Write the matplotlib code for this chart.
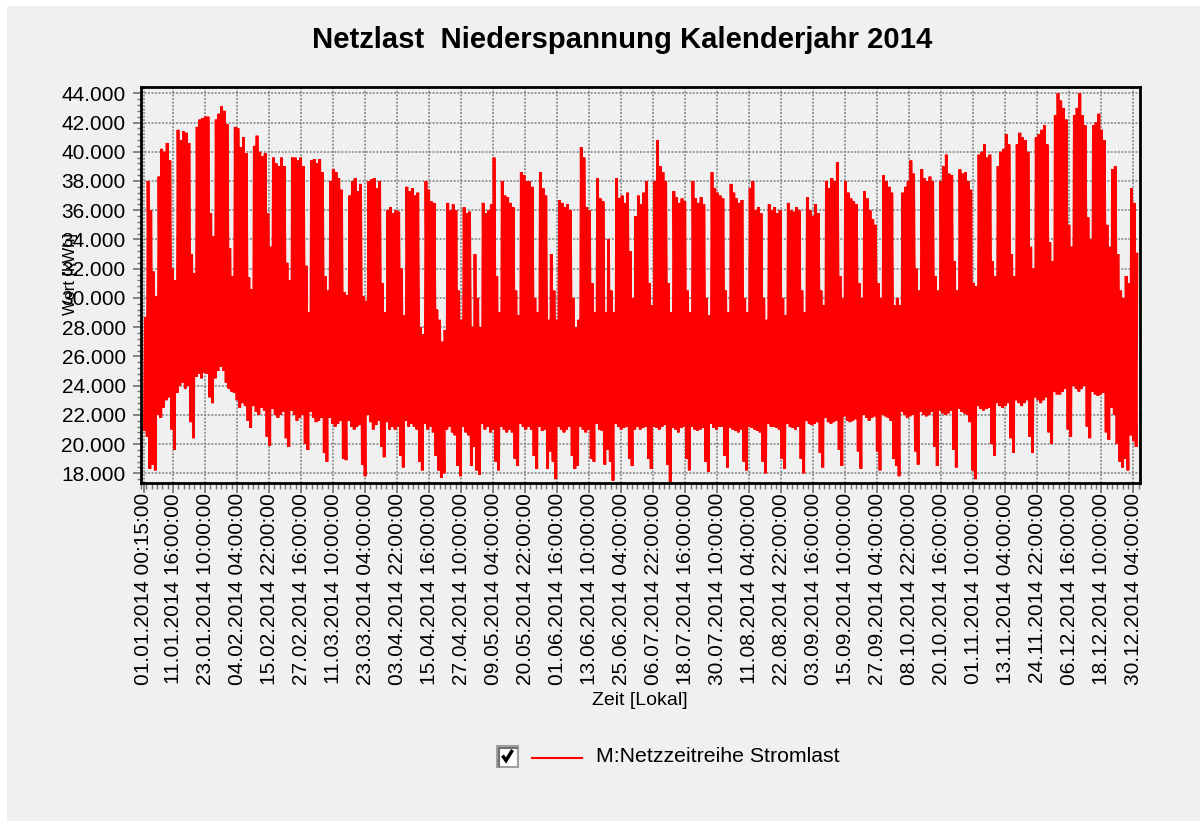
import numpy as np
import matplotlib
matplotlib.use("Agg")
import matplotlib.pyplot as plt
import matplotlib.dates as mdates
from matplotlib.patches import Rectangle
from matplotlib.lines import Line2D
from matplotlib.ticker import FixedLocator, FixedFormatter, MultipleLocator, FuncFormatter
from datetime import datetime, timedelta

plt.rcParams['font.family'] = ['Liberation Sans', 'DejaVu Sans']

title = "Netzlast  Niederspannung Kalenderjahr 2014"
series_name = "M:Netzzeitreihe Stromlast"
x_label = "Zeit [Lokal]"
y_label = "Wert [kWh]"

# daily peak load (thousand kWh) 01.01.2014 - 31.12.2014, rows = weeks Mon..Sun
daily_max_k = [
    28.7, 38.0, 36.0, 31.8, 30.1,                   # Wed 01.01 - Sun 05.01
    38.3, 40.2, 40.0, 40.6, 39.4, 32.0, 31.2,       # 06.01
    41.5, 40.8, 41.4, 41.3, 40.6, 33.0, 31.7,       # 13.01
    41.7, 42.2, 42.3, 42.4, 42.4, 35.8, 34.2,       # 20.01
    42.2, 42.6, 43.1, 42.8, 41.9, 33.4, 31.5,       # 27.01
    41.7, 41.6, 40.3, 41.0, 39.9, 31.4, 30.6,       # 03.02
    40.4, 41.1, 40.0, 39.7, 39.9, 35.8, 33.5,       # 10.02
    39.6, 39.2, 39.0, 39.6, 39.0, 32.4, 31.2,       # 17.02
    39.6, 39.6, 39.4, 39.6, 39.0, 32.2, 29.0,       # 24.02
    39.4, 39.5, 39.2, 39.5, 38.6, 31.5, 30.5,       # 03.03
    38.0, 38.8, 38.6, 38.2, 37.4, 30.4, 30.2,       # 10.03
    37.0, 38.0, 38.2, 37.3, 37.8, 30.1, 29.8,       # 17.03
    38.0, 38.1, 38.2, 37.5, 38.0, 31.0, 29.0,       # 24.03
    36.0, 36.2, 35.8, 36.0, 35.9, 32.0, 28.8,       # 31.03
    37.6, 37.3, 37.5, 37.0, 37.2, 28.0, 27.5,       # 07.04
    38.0, 37.4, 36.6, 36.5, 29.2, 28.5, 27.0,       # 14.04
    27.8, 36.5, 36.0, 36.4, 36.0, 30.5, 28.5,       # 21.04
    36.2, 35.8, 35.9, 28.0, 33.0, 30.0, 28.0,       # 28.04
    36.5, 35.8, 36.0, 36.4, 39.6, 31.5, 29.0,       # 05.05
    38.0, 37.0, 36.9, 36.5, 36.2, 30.5, 28.8,       # 12.05
    38.6, 38.4, 38.0, 38.0, 37.6, 30.0, 29.0,       # 19.05
    38.6, 37.5, 37.0, 28.5, 33.0, 30.5, 28.5,       # 26.05
    36.7, 36.5, 36.2, 36.4, 36.0, 30.0, 28.0,       # 02.06
    28.5, 40.3, 39.6, 36.2, 36.0, 31.0, 29.0,       # 09.06
    38.2, 36.8, 36.6, 29.0, 34.0, 30.5, 29.0,       # 16.06
    38.2, 36.8, 37.0, 36.5, 37.2, 33.2, 30.0,       # 23.06
    35.6, 37.0, 36.4, 37.2, 38.0, 31.0, 29.5,       # 30.06
    38.0, 40.8, 39.0, 38.6, 38.0, 31.0, 29.0,       # 07.07
    37.3, 36.9, 36.5, 36.8, 36.6, 30.5, 29.0,       # 14.07
    38.0, 36.8, 36.5, 36.9, 36.4, 30.0, 28.8,       # 21.07
    38.6, 37.5, 37.2, 37.0, 36.8, 30.5, 29.0,       # 28.07
    37.8, 37.2, 36.8, 36.5, 36.7, 30.0, 29.0,       # 04.08
    37.5, 38.0, 36.0, 36.2, 35.8, 30.0, 28.5,       # 11.08
    36.4, 36.0, 36.2, 35.8, 36.0, 30.0, 28.8,       # 18.08
    36.5, 36.0, 35.9, 36.2, 36.0, 30.5, 29.0,       # 25.08
    36.9, 36.0, 35.6, 36.4, 35.8, 30.5, 29.5,       # 01.09
    38.0, 37.5, 38.2, 38.0, 39.3, 31.5, 30.0,       # 08.09
    38.0, 37.2, 36.8, 36.6, 36.4, 31.0, 30.0,       # 15.09
    37.3, 36.8, 36.0, 35.4, 35.0, 31.0, 30.0,       # 22.09
    38.4, 38.0, 37.6, 37.2, 29.5, 30.0, 29.5,       # 29.09
    37.2, 37.6, 38.0, 39.4, 38.5, 32.0, 30.5,       # 06.10
    38.8, 38.2, 38.0, 38.3, 38.0, 31.5, 30.5,       # 13.10
    38.0, 39.0, 39.8, 38.5, 38.4, 32.5, 30.5,       # 20.10
    38.8, 38.5, 38.6, 38.0, 37.4, 31.0, 30.8,       # 27.10
    39.8, 40.0, 40.5, 39.6, 39.8, 32.5, 31.5,       # 03.11
    39.0, 40.0, 40.2, 41.2, 40.5, 33.0, 31.5,       # 10.11
    40.5, 41.3, 41.0, 40.8, 40.0, 33.5, 32.0,       # 17.11
    41.0, 41.2, 41.5, 41.8, 40.5, 33.8, 32.5,       # 24.11
    42.5, 44.0, 43.5, 43.0, 42.2, 35.0, 33.5,       # 01.12
    42.5, 43.0, 44.0, 42.5, 41.8, 35.5, 34.0,       # 08.12
    41.8, 42.0, 42.6, 41.5, 40.8, 35.0, 33.5,       # 15.12
    38.8, 39.0, 33.0, 30.5, 30.0, 31.5, 31.0,       # 22.12
    37.5, 36.5, 33.0,                               # 29.12 - 31.12
]

# daily night minimum (thousand kWh)
daily_min_k = [
    21.0, 20.5, 18.3, 18.6, 18.2,
    22.0, 21.8, 22.5, 23.0, 23.2, 21.0, 19.6,
    23.5, 24.0, 24.2, 23.8, 24.0, 21.5, 20.4,
    24.6, 24.8, 24.5, 24.9, 24.8, 23.2, 22.8,
    24.5, 25.0, 25.3, 25.0, 24.2, 23.8, 23.6,
    23.5, 23.0, 22.5, 22.8, 22.6, 21.6, 21.1,
    22.6, 22.2, 22.0, 22.5, 22.3, 20.5, 19.9,
    22.4, 22.0, 21.8, 22.0, 22.2, 20.4, 19.8,
    22.3, 22.0, 21.6, 21.8, 22.0, 20.0, 19.6,
    22.2, 21.8, 21.5, 21.6, 21.8, 19.4, 18.8,
    21.8, 21.4, 21.2, 21.4, 21.6, 19.0, 18.9,
    21.6, 21.2, 21.0, 21.2, 21.3, 18.6, 17.8,
    22.0, 21.5, 21.0, 21.3, 21.6, 19.8, 19.1,
    21.5, 21.0, 21.2, 21.0, 21.2, 19.2, 18.4,
    21.6, 21.2, 21.4, 21.2, 21.0, 18.8, 18.2,
    21.4, 21.0, 21.2, 20.8, 19.2, 18.2, 17.7,
    18.0, 21.0, 21.2, 20.8, 20.6, 18.5, 17.8,
    21.2, 20.8, 20.6, 18.5, 19.8, 18.2, 17.9,
    21.4, 21.0, 21.2, 20.8, 21.0, 18.8, 18.2,
    21.2, 21.0, 20.8, 21.0, 20.8, 19.0, 18.5,
    21.4, 21.2, 21.0, 21.2, 21.0, 19.2, 18.3,
    21.2, 20.9, 21.0, 18.3, 19.5, 18.8, 17.6,
    21.2, 21.0, 20.8, 21.0, 21.2, 19.2, 18.3,
    18.5, 21.2, 21.0, 20.8, 21.0, 19.0, 18.8,
    21.4, 21.0, 20.9, 18.6, 19.6, 18.8, 17.5,
    21.4, 21.2, 21.0, 21.1, 21.2, 19.0, 18.5,
    21.0, 21.2, 21.0, 21.1, 21.2, 19.0, 18.3,
    21.2, 21.1, 21.0, 21.2, 21.3, 18.6, 17.4,
    21.1, 21.0, 20.8, 21.1, 21.2, 19.0, 18.2,
    21.2, 21.0, 20.9, 21.0, 21.1, 18.8, 18.1,
    21.4, 21.1, 21.0, 21.2, 21.2, 19.2, 18.4,
    21.1, 21.0, 20.9, 20.8, 21.0, 18.8, 18.2,
    21.2, 21.1, 21.0, 20.9, 20.8, 18.8, 18.0,
    21.4, 21.2, 21.2, 21.1, 21.0, 19.0, 18.3,
    21.4, 21.2, 21.1, 21.0, 21.2, 19.0, 18.0,
    21.6, 21.4, 21.3, 21.4, 21.5, 19.4, 18.4,
    21.8, 21.5, 21.4, 21.5, 21.6, 19.6, 18.5,
    21.9, 21.6, 21.5, 21.6, 21.7, 19.5, 18.3,
    22.0, 21.8, 21.6, 21.8, 21.9, 19.5, 18.2,
    22.0, 21.9, 21.8, 21.6, 19.0, 18.5, 17.8,
    22.2, 22.0, 21.8, 21.9, 22.0, 19.5, 18.6,
    22.2, 22.0, 21.9, 22.0, 22.2, 19.8, 18.5,
    22.3, 22.1, 22.0, 22.1, 22.3, 19.6, 18.4,
    22.4, 22.2, 22.1, 22.0, 21.5, 18.2, 17.6,
    22.6, 22.4, 22.3, 22.4, 22.5, 20.0, 19.2,
    22.8, 22.6, 22.5, 22.6, 22.8, 20.4, 19.4,
    23.0, 22.8, 22.6, 22.8, 23.0, 20.5, 19.4,
    23.2, 23.0, 22.8, 23.0, 23.2, 20.8, 20.0,
    23.6, 23.4, 23.4, 23.6, 23.8, 21.0, 20.5,
    24.0, 23.8, 23.6, 23.8, 24.0, 21.2, 20.4,
    23.6, 23.4, 23.3, 23.4, 23.5, 20.8, 20.3,
    22.5, 22.0, 20.0, 18.8, 18.4, 19.0, 18.2,
    20.6, 20.2, 19.8,
]

tick_labels = [
    "01.01.2014 00:15:00", "11.01.2014 16:00:00", "23.01.2014 10:00:00",
    "04.02.2014 04:00:00", "15.02.2014 22:00:00", "27.02.2014 16:00:00",
    "11.03.2014 10:00:00", "23.03.2014 04:00:00", "03.04.2014 22:00:00",
    "15.04.2014 16:00:00", "27.04.2014 10:00:00", "09.05.2014 04:00:00",
    "20.05.2014 22:00:00", "01.06.2014 16:00:00", "13.06.2014 10:00:00",
    "25.06.2014 04:00:00", "06.07.2014 22:00:00", "18.07.2014 16:00:00",
    "30.07.2014 10:00:00", "11.08.2014 04:00:00", "22.08.2014 22:00:00",
    "03.09.2014 16:00:00", "15.09.2014 10:00:00", "27.09.2014 04:00:00",
    "08.10.2014 22:00:00", "20.10.2014 16:00:00", "01.11.2014 10:00:00",
    "13.11.2014 04:00:00", "24.11.2014 22:00:00", "06.12.2014 16:00:00",
    "18.12.2014 10:00:00", "30.12.2014 04:00:00",
]

y_ticks = list(range(18000, 44001, 2000))

# ---------------------------------------------------------------
W, H = 1200, 821
fig = plt.figure(figsize=(W / 100, H / 100), dpi=100, facecolor="#f0f0f0")


def fx(px):
    return px / W


def fy(py):
    return 1 - py / H


# thin white border at top and left of the panel
fig.patches.append(Rectangle((0, fy(6)), 1, 6 / H, transform=fig.transFigure,
                             facecolor="white", edgecolor="none", zorder=-5))
fig.patches.append(Rectangle((0, 0), fx(7), 1, transform=fig.transFigure,
                             facecolor="white", edgecolor="none", zorder=-5))

ax = fig.add_axes([fx(141), fy(482.7), fx(1140) - fx(141), fy(87.5) - fy(482.7)])
ax.set_zorder(1)
ax.set_facecolor("#f0f0f0")

start = datetime(2014, 1, 1)
times, values = [], []
for d, (lo, hi) in enumerate(zip(daily_min_k, daily_max_k)):
    day0 = start + timedelta(days=d)
    times += [day0 + timedelta(hours=4), day0 + timedelta(hours=12)]
    values += [lo * 1000, hi * 1000]
tnum = mdates.date2num(times)

ax.plot(tnum, values, color="#ff0000", lw=2.0, zorder=3, solid_joinstyle="miter")

t_first = mdates.date2num(datetime(2014, 1, 1, 0, 15))
t_last = mdates.date2num(datetime(2015, 1, 1, 0, 0))
ax.set_xlim(t_first - 1.1, t_last + 0.6)
ax.set_ylim(17357, 44397)

major_pos = [mdates.date2num(datetime.strptime(s, "%d.%m.%Y %H:%M:%S")) for s in tick_labels]
ax.xaxis.set_major_locator(FixedLocator(major_pos))
ax.xaxis.set_major_formatter(FixedFormatter(tick_labels))
step = (major_pos[2] - major_pos[1]) / 6
lo_lim, hi_lim = ax.get_xlim()
minor = np.arange(major_pos[1] - 6 * step, hi_lim, step)
minor = minor[minor >= lo_lim]
ax.xaxis.set_minor_locator(FixedLocator(minor))

ax.yaxis.set_major_locator(FixedLocator(y_ticks))
ax.yaxis.set_major_formatter(FuncFormatter(lambda v, p: f"{int(v):,}".replace(",", ".")))
ax.yaxis.set_minor_locator(MultipleLocator(400))

for lab in ax.get_xticklabels():
    lab.set_rotation(90)

ax.tick_params(axis="x", which="major", length=7, width=1.2, color="#707070",
               labelsize=15, pad=0.5, direction="out")
ax.tick_params(axis="x", which="minor", length=4, width=1.0, color="#707070", direction="out")
ax.tick_params(axis="y", which="major", length=6, width=1.2, color="#707070",
               labelsize=15, pad=5, direction="out")
ax.tick_params(axis="y", which="minor", length=3, width=1.0, color="#707070", direction="out")

ax.grid(True, which="major", color="#808080", lw=1.1, linestyle=(0, (1.3, 1.0)), zorder=1)
ax.set_axisbelow(True)

for s in ax.spines.values():
    s.set_color("black")
    s.set_linewidth(2.0)
    s.set_zorder(5)

# texts
fig.text(fx(622), fy(40), title, ha="center", va="center", fontsize=21.1, fontweight="bold")
fig.text(fx(640), fy(700), x_label, ha="center", va="center", fontsize=14)
fig.text(fx(71), fy(274), y_label, ha="center", va="center", fontsize=12, rotation=90,
         zorder=6)

# legend with checkbox
fig.patches.append(Rectangle((fx(497), fy(767)), fx(21), 21 / H, transform=fig.transFigure,
                             facecolor="white", edgecolor="#a0a0a0", lw=1.5, zorder=2))
fig.lines.append(Line2D([fx(498.5), fx(498.5), fx(517)], [fy(765.5), fy(747.5), fy(747.5)],
                        transform=fig.transFigure, color="#707070", lw=1.5, zorder=3))
fig.lines.append(Line2D([fx(502.5), fx(506), fx(512.5)], [fy(755.5), fy(760.5), fy(750)],
                        transform=fig.transFigure, color="black", lw=2.5, zorder=4,
                        solid_capstyle="butt", solid_joinstyle="miter"))
fig.lines.append(Line2D([fx(532), fx(582)], [fy(758), fy(758)],
                        transform=fig.transFigure, color="#ff0000", lw=1.5, zorder=3))
fig.text(fx(596), fy(757), series_name, ha="left", va="center", fontsize=15.3)

fig.savefig("out.png", dpi=100, facecolor=fig.get_facecolor())
